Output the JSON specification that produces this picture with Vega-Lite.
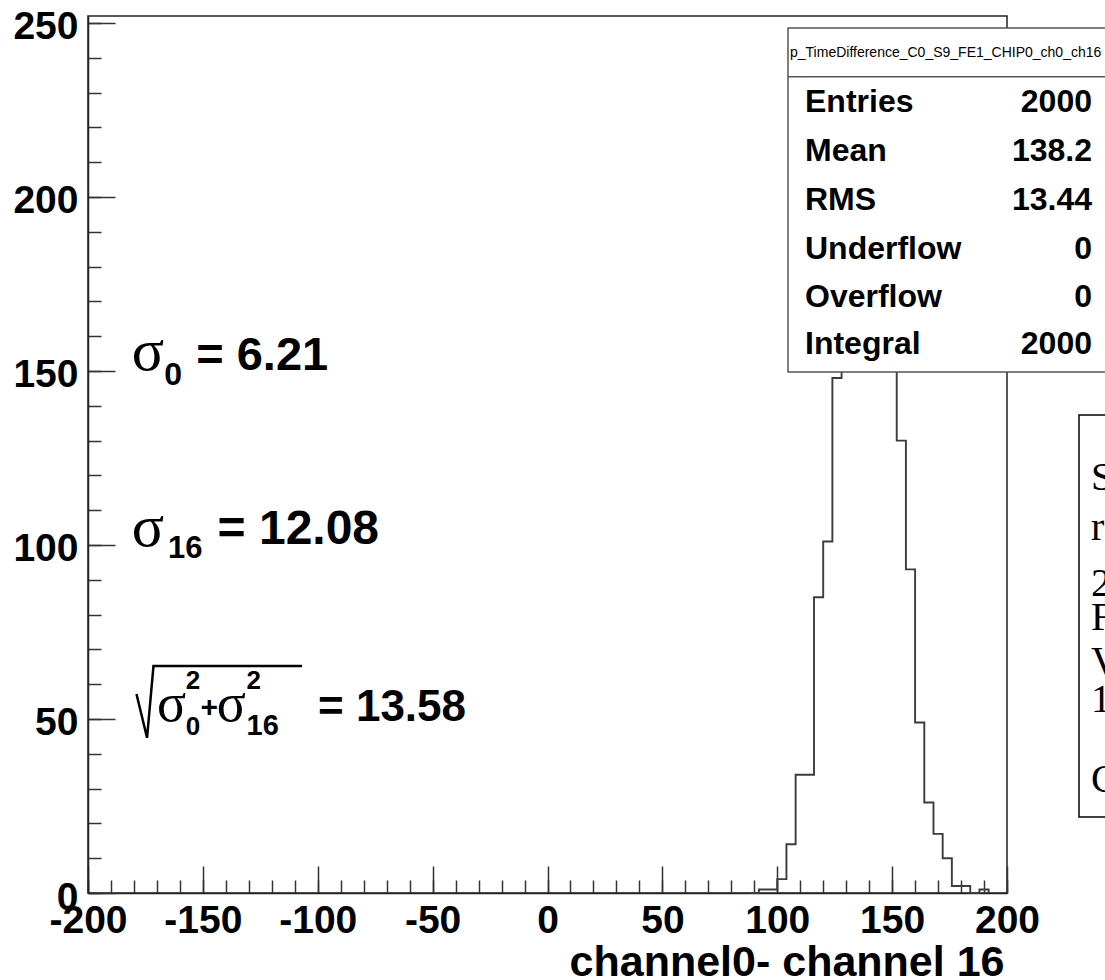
{
  "$schema": "https://vega.github.io/schema/vega-lite/v6.json",
  "width": 919,
  "height": 877,
  "autosize": {"type": "none"},
  "padding": {"left": 88, "top": 16, "right": 98, "bottom": 87},
  "background": "white",
  "config": {"view": {"stroke": "#222", "strokeWidth": 1.5}},
  "data": {"values": [{}]},
  "resolve": {"axis": {"x": "independent", "y": "independent"}},
  "datasets": {
    "hist": [
      {"bin_start": 88, "count": 0}, {"bin_start": 92, "count": 1}, {"bin_start": 96, "count": 1},
      {"bin_start": 100, "count": 4}, {"bin_start": 104, "count": 14}, {"bin_start": 108, "count": 34},
      {"bin_start": 112, "count": 34}, {"bin_start": 116, "count": 85}, {"bin_start": 120, "count": 101},
      {"bin_start": 124, "count": 148}, {"bin_start": 128, "count": 205}, {"bin_start": 132, "count": 240},
      {"bin_start": 136, "count": 236}, {"bin_start": 140, "count": 222}, {"bin_start": 144, "count": 190},
      {"bin_start": 148, "count": 155}, {"bin_start": 152, "count": 130}, {"bin_start": 156, "count": 93},
      {"bin_start": 160, "count": 49}, {"bin_start": 164, "count": 26}, {"bin_start": 168, "count": 17},
      {"bin_start": 172, "count": 10}, {"bin_start": 176, "count": 2}, {"bin_start": 180, "count": 2},
      {"bin_start": 184, "count": 0}, {"bin_start": 188, "count": 1}, {"bin_start": 192, "count": 0}
    ],
    "stats": [
      {"label": "Entries", "value": "2000", "row": 224.42},
      {"label": "Mean", "value": "138.2", "row": 210.34},
      {"label": "RMS", "value": "13.44", "row": 196.26},
      {"label": "Underflow", "value": "0", "row": 182.18},
      {"label": "Overflow", "value": "0", "row": 168.39},
      {"label": "Integral", "value": "2000", "row": 154.88}
    ],
    "boxletters": [
      {"ch": "S", "row": 115.8},
      {"ch": "r", "row": 101.43},
      {"ch": "2", "row": 85.34},
      {"ch": "F", "row": 75.57},
      {"ch": "V", "row": 62.93},
      {"ch": "1", "row": 52.01},
      {"ch": "C", "row": 29.03}
    ],
    "radical": [
      {"rx": -178.9, "ry": 57.2, "ord": 1},
      {"rx": -174.3, "ry": 44.6, "ord": 2},
      {"rx": -171.5, "ry": 65.23, "ord": 3},
      {"rx": -106.86, "ry": 65.23, "ord": 4}
    ]
  },
  "layer": [
    {
      "mark": {"type": "rule", "strokeOpacity": 0},
      "encoding": {
        "x": {
          "datum": 0, "type": "quantitative",
          "scale": {"domain": [-200, 200], "nice": false, "zero": false},
          "axis": {
            "orient": "bottom",
            "values": [-200,-190,-180,-170,-160,-150,-140,-130,-120,-110,-100,-90,-80,-70,-60,-50,-40,-30,-20,-10,0,10,20,30,40,50,60,70,80,90,100,110,120,130,140,150,160,170,180,190,200],
            "labels": false, "domain": false, "grid": false, "title": null,
            "tickSize": -13, "tickColor": "#333", "tickWidth": 1.5
          }
        },
        "y": {
          "datum": 0, "type": "quantitative",
          "scale": {"domain": [0, 252], "nice": false, "zero": false},
          "axis": {
            "orient": "left",
            "values": [0,10,20,30,40,50,60,70,80,90,100,110,120,130,140,150,160,170,180,190,200,210,220,230,240,250],
            "labels": false, "domain": false, "grid": false, "title": null,
            "tickSize": -13, "tickColor": "#333", "tickWidth": 1.5
          }
        }
      }
    },
    {
      "data": {"name": "hist"},
      "mark": {"type": "line", "interpolate": "step-after", "color": "#3c3c3c", "strokeWidth": 1.9},
      "encoding": {
        "x": {
          "field": "bin_start", "type": "quantitative",
          "axis": {
            "orient": "bottom",
            "values": [-200, -150, -100, -50, 0, 50, 100, 150, 200],
            "labelExpr": "'' + datum.value",
            "tickSize": -27,
            "labelPadding": 35,
            "labelFont": "Liberation Sans", "labelFontWeight": "bold", "labelFontSize": 39, "labelColor": "black",
            "labelFlush": false, "labelOverlap": false, "labelBound": false,
            "tickColor": "#333", "tickWidth": 1.5, "domainColor": "#222", "domainWidth": 1.5, "grid": false,
            "title": "channel0- channel 16",
            "titleFont": "Liberation Sans", "titleFontWeight": "bold", "titleFontSize": 43, "titleColor": "black",
            "titleAnchor": "end", "titleAlign": "right", "titleBaseline": "alphabetic", "titleY": 82, "titleX": 916
          }
        },
        "y": {
          "field": "count", "type": "quantitative",
          "axis": {
            "orient": "left",
            "values": [0, 50, 100, 150, 200, 250],
            "labelExpr": "'' + datum.value",
            "tickSize": -27,
            "labelPadding": 37,
            "labelFont": "Liberation Sans", "labelFontWeight": "bold", "labelFontSize": 39, "labelColor": "black",
            "labelFlush": false, "labelOverlap": false, "labelBound": false,
            "labelBaseline": "middle", "labelOffset": 4,
            "tickColor": "#333", "tickWidth": 1.5, "domainColor": "#222", "domainWidth": 1.5, "grid": false,
            "title": null
          }
        }
      }
    },
    {
      "mark": {"type": "rect", "fill": "white", "stroke": "#555", "strokeWidth": 1.5},
      "encoding": {
        "x": {"datum": 104.68, "axis": null}, "x2": {"datum": 255},
        "y": {"datum": 248.55, "axis": null}, "y2": {"datum": 149.71}
      }
    },
    {
      "mark": {"type": "rule", "stroke": "#555", "strokeWidth": 1.5},
      "encoding": {
        "x": {"datum": 104.68, "axis": null}, "x2": {"datum": 255},
        "y": {"datum": 234.56, "axis": null}
      }
    },
    {
      "mark": {"type": "text", "align": "left", "baseline": "alphabetic", "font": "Liberation Sans", "fontSize": 14, "color": "black"},
      "encoding": {
        "x": {"datum": 105.55, "axis": null}, "y": {"datum": 240.3, "axis": null},
        "text": {"value": "p_TimeDifference_C0_S9_FE1_CHIP0_ch0_ch16"}
      }
    },
    {
      "data": {"name": "stats"},
      "mark": {"type": "text", "align": "left", "baseline": "alphabetic", "font": "Liberation Sans", "fontWeight": "bold", "fontSize": 32, "color": "black"},
      "encoding": {
        "x": {"datum": 112.08, "axis": null},
        "y": {"field": "row", "type": "quantitative", "axis": null},
        "text": {"field": "label"}
      }
    },
    {
      "data": {"name": "stats"},
      "mark": {"type": "text", "align": "right", "baseline": "alphabetic", "font": "Liberation Sans", "fontWeight": "bold", "fontSize": 32, "color": "black"},
      "encoding": {
        "x": {"datum": 237.0, "axis": null},
        "y": {"field": "row", "type": "quantitative", "axis": null},
        "text": {"field": "value"}
      }
    },
    {
      "mark": {"type": "rect", "fill": "white", "stroke": "black", "strokeWidth": 1.5},
      "encoding": {
        "x": {"datum": 231.34, "axis": null}, "x2": {"datum": 262},
        "y": {"datum": 137.35, "axis": null}, "y2": {"datum": 21.84}
      }
    },
    {
      "data": {"name": "boxletters"},
      "mark": {"type": "text", "align": "left", "baseline": "alphabetic", "font": "Liberation Serif", "fontSize": 40, "color": "black"},
      "encoding": {
        "x": {"datum": 236.6, "axis": null},
        "y": {"field": "row", "type": "quantitative", "axis": null},
        "text": {"field": "ch"}
      }
    },
    {
      "mark": {"type": "text", "align": "left", "baseline": "alphabetic", "font": "Liberation Serif", "fontSize": 60, "color": "black"},
      "encoding": {"x": {"datum": -181.0, "axis": null}, "y": {"datum": 150.28, "axis": null}, "text": {"value": "σ"}}
    },
    {
      "mark": {"type": "text", "align": "left", "baseline": "alphabetic", "font": "Liberation Sans", "fontWeight": "bold", "fontSize": 32, "color": "black"},
      "encoding": {"x": {"datum": -166.8, "axis": null}, "y": {"datum": 145.97, "axis": null}, "text": {"value": "0"}}
    },
    {
      "mark": {"type": "text", "align": "left", "baseline": "alphabetic", "font": "Liberation Sans", "fontWeight": "bold", "fontSize": 47, "color": "black"},
      "encoding": {"x": {"datum": -152.9, "axis": null}, "y": {"datum": 150.28, "axis": null}, "text": {"value": "= 6.21"}}
    },
    {
      "mark": {"type": "text", "align": "left", "baseline": "alphabetic", "font": "Liberation Serif", "fontSize": 60, "color": "black"},
      "encoding": {"x": {"datum": -181.0, "axis": null}, "y": {"datum": 99.71, "axis": null}, "text": {"value": "σ"}}
    },
    {
      "mark": {"type": "text", "align": "left", "baseline": "alphabetic", "font": "Liberation Sans", "fontWeight": "bold", "fontSize": 31, "color": "black"},
      "encoding": {"x": {"datum": -165.2, "axis": null}, "y": {"datum": 96.26, "axis": null}, "text": {"value": "16"}}
    },
    {
      "mark": {"type": "text", "align": "left", "baseline": "alphabetic", "font": "Liberation Sans", "fontWeight": "bold", "fontSize": 48, "color": "black"},
      "encoding": {"x": {"datum": -143.6, "axis": null}, "y": {"datum": 100.29, "axis": null}, "text": {"value": "= 12.08"}}
    },
    {
      "data": {"name": "radical"},
      "mark": {"type": "line", "stroke": "black", "strokeWidth": 2.5, "strokeJoin": "miter"},
      "encoding": {
        "x": {"field": "rx", "type": "quantitative", "axis": null},
        "y": {"field": "ry", "type": "quantitative", "axis": null},
        "order": {"field": "ord", "type": "quantitative"}
      }
    },
    {
      "mark": {"type": "text", "align": "left", "baseline": "alphabetic", "font": "Liberation Serif", "fontSize": 54, "color": "black"},
      "encoding": {"x": {"datum": -170.0, "axis": null}, "y": {"datum": 49.4, "axis": null}, "text": {"value": "σ"}}
    },
    {
      "mark": {"type": "text", "align": "left", "baseline": "alphabetic", "font": "Liberation Sans", "fontWeight": "bold", "fontSize": 26, "color": "black"},
      "encoding": {"x": {"datum": -157.4, "axis": null}, "y": {"datum": 58.5, "axis": null}, "text": {"value": "2"}}
    },
    {
      "mark": {"type": "text", "align": "left", "baseline": "alphabetic", "font": "Liberation Sans", "fontWeight": "bold", "fontSize": 26, "color": "black"},
      "encoding": {"x": {"datum": -157.4, "axis": null}, "y": {"datum": 45.4, "axis": null}, "text": {"value": "0"}}
    },
    {
      "mark": {"type": "text", "align": "left", "baseline": "alphabetic", "font": "Liberation Sans", "fontWeight": "bold", "fontSize": 30, "color": "black"},
      "encoding": {"x": {"datum": -151.0, "axis": null}, "y": {"datum": 50.5, "axis": null}, "text": {"value": "+"}}
    },
    {
      "mark": {"type": "text", "align": "left", "baseline": "alphabetic", "font": "Liberation Serif", "fontSize": 54, "color": "black"},
      "encoding": {"x": {"datum": -144.0, "axis": null}, "y": {"datum": 49.4, "axis": null}, "text": {"value": "σ"}}
    },
    {
      "mark": {"type": "text", "align": "left", "baseline": "alphabetic", "font": "Liberation Sans", "fontWeight": "bold", "fontSize": 26, "color": "black"},
      "encoding": {"x": {"datum": -131.0, "axis": null}, "y": {"datum": 58.5, "axis": null}, "text": {"value": "2"}}
    },
    {
      "mark": {"type": "text", "align": "left", "baseline": "alphabetic", "font": "Liberation Sans", "fontWeight": "bold", "fontSize": 29, "color": "black"},
      "encoding": {"x": {"datum": -131.0, "axis": null}, "y": {"datum": 45.4, "axis": null}, "text": {"value": "16"}}
    },
    {
      "mark": {"type": "text", "align": "left", "baseline": "alphabetic", "font": "Liberation Sans", "fontWeight": "bold", "fontSize": 44, "color": "black"},
      "encoding": {"x": {"datum": -99.89, "axis": null}, "y": {"datum": 49.43, "axis": null}, "text": {"value": "= 13.58"}}
    }
  ]
}
